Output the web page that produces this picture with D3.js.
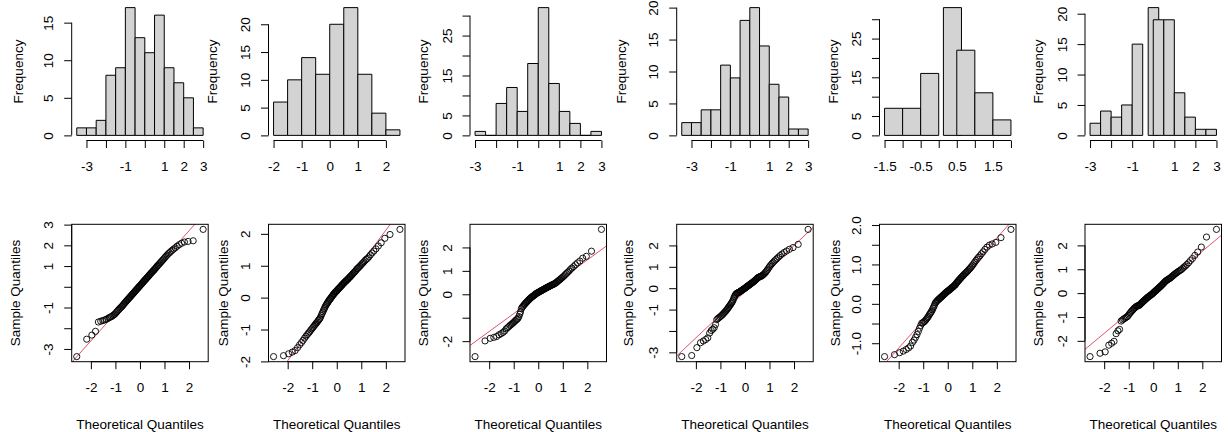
<!DOCTYPE html>
<html>
<head>
<meta charset="utf-8">
<script src="https://cdn.jsdelivr.net/npm/d3@7"></script>
<style>
  body { margin: 0; background: #fff; }
  svg { display: block; }
  text { font-family: "Liberation Sans", Arial, Helvetica, sans-serif; font-size: 13.5px; fill: #000; }
</style>
</head>
<body>
<svg id="chart" width="1229" height="432"></svg>
<script>
// ---- Histogram bins: left edge of each bar and its count (bin width 0.5) ----
const binWidth = 0.5;
const hist1Lefts  = [-3.5, -3, -2.5, -2, -1.5, -1, -0.5, 0, 0.5, 1, 1.5, 2, 2.5];
const hist1Counts = [1, 1, 2, 8, 9, 17, 13, 11, 16, 9, 7, 5, 1];
const hist2Lefts  = [-2, -1.5, -1, -0.5, 0, 0.5, 1, 1.5, 2];
const hist2Counts = [6, 10, 14, 11, 20, 23, 11, 4, 1];
const hist3Lefts  = [-3, -2.5, -2, -1.5, -1, -0.5, 0, 0.5, 1, 1.5, 2, 2.5];
const hist3Counts = [1, 0, 8, 12, 6, 18, 32, 13, 6, 3, 0, 1];
const hist4Lefts  = [-3.5, -3, -2.5, -2, -1.5, -1, -0.5, 0, 0.5, 1, 1.5, 2, 2.5];
const hist4Counts = [2, 2, 4, 4, 11, 9, 18, 20, 14, 8, 6, 1, 1];
const hist5Lefts  = [-1.5, -1, -0.5, 0.13, 0.5, 1, 1.5];
const hist5Counts = [7, 7, 16, 33, 22, 11, 4];
const hist6Lefts  = [-3, -2.5, -2, -1.5, -1, -0.24, 0, 0.5, 1, 1.5, 2, 2.5];
const hist6Counts = [2, 4, 3, 5, 15, 21, 19, 19, 7, 3, 1, 1];

// ---- Histogram axis ticks and the subset that carries a label ----
const histXTicksA  = [-3, -2, -1, 0, 1, 2, 3];
const histXLabelsA = [-3, -1, 1, 2, 3];
const hist2XTicks  = [-2, -1, 0, 1, 2];
const hist2XLabels = [-2, -1, 0, 1, 2];
const hist5XTicks  = [-1.5, -1, -0.5, 0, 0.5, 1, 1.5, 2];
const hist5XLabels = [-1.5, -0.5, 0.5, 1.5];
const hist1YTicks  = [0, 5, 10, 15];
const histYTicks20 = [0, 5, 10, 15, 20];
const histYTicks30 = [0, 5, 10, 15, 20, 25, 30];
const histYLabels30 = [0, 5, 15, 25];

// ---- Samples for the normal Q-Q plots (sorted values) ----
const sample1 = [-3.37,-2.53,-2.33,-2.15,-1.70,-1.66,-1.63,-1.60,-1.57,-1.53,
  -1.49,-1.46,-1.43,-1.39,-1.35,-1.31,-1.25,-1.20,-1.14,-1.10,
  -1.05,-1.01,-0.97,-0.93,-0.88,-0.84,-0.79,-0.75,-0.71,-0.67,
  -0.63,-0.60,-0.56,-0.52,-0.49,-0.45,-0.41,-0.38,-0.34,-0.31,
  -0.27,-0.24,-0.20,-0.17,-0.13,-0.10,-0.07,-0.03,0.00,0.03,
  0.07,0.10,0.13,0.17,0.20,0.24,0.27,0.31,0.34,0.37,
  0.41,0.44,0.48,0.51,0.55,0.59,0.62,0.66,0.70,0.73,
  0.77,0.81,0.84,0.89,0.93,0.98,1.02,1.06,1.11,1.15,
  1.20,1.25,1.30,1.35,1.41,1.47,1.53,1.59,1.64,1.70,
  1.76,1.82,1.88,1.96,2.03,2.10,2.16,2.19,2.22,2.77];
const sample2 = [-1.85,-1.82,-1.76,-1.71,-1.66,-1.57,-1.48,-1.41,-1.34,-1.27,
  -1.21,-1.16,-1.11,-1.07,-1.02,-0.98,-0.94,-0.90,-0.86,-0.83,
  -0.79,-0.76,-0.72,-0.69,-0.66,-0.61,-0.55,-0.50,-0.45,-0.40,
  -0.35,-0.30,-0.26,-0.22,-0.19,-0.16,-0.12,-0.09,-0.06,-0.04,
  -0.01,0.02,0.04,0.07,0.10,0.12,0.14,0.17,0.18,0.21,
  0.22,0.25,0.27,0.29,0.31,0.33,0.35,0.38,0.39,0.42,
  0.44,0.46,0.48,0.50,0.52,0.54,0.56,0.58,0.60,0.63,
  0.65,0.67,0.70,0.72,0.75,0.78,0.80,0.83,0.86,0.90,
  0.92,0.95,0.98,1.01,1.05,1.08,1.12,1.16,1.20,1.23,
  1.28,1.34,1.40,1.46,1.53,1.62,1.72,1.86,1.98,2.14];
const sample3 = [-2.66,-1.99,-1.88,-1.84,-1.80,-1.73,-1.68,-1.63,-1.57,-1.48,
  -1.43,-1.38,-1.33,-1.29,-1.25,-1.21,-1.17,-1.13,-1.09,-1.06,
  -1.02,-0.95,-0.85,-0.75,-0.62,-0.56,-0.52,-0.48,-0.44,-0.41,
  -0.37,-0.34,-0.31,-0.28,-0.25,-0.22,-0.19,-0.17,-0.14,-0.12,
  -0.10,-0.08,-0.06,-0.04,-0.02,0.01,0.03,0.04,0.06,0.07,
  0.09,0.10,0.12,0.13,0.15,0.16,0.18,0.19,0.21,0.22,
  0.24,0.25,0.27,0.28,0.30,0.31,0.33,0.34,0.36,0.37,
  0.39,0.40,0.42,0.43,0.45,0.47,0.49,0.52,0.55,0.58,
  0.61,0.64,0.68,0.71,0.75,0.79,0.84,0.89,0.94,0.99,
  1.06,1.12,1.18,1.26,1.34,1.42,1.54,1.62,1.84,2.77];
const sample4 = [-3.20,-3.15,-2.78,-2.55,-2.47,-2.40,-2.32,-2.10,-1.98,-1.92,
  -1.85,-1.70,-1.47,-1.42,-1.38,-1.34,-1.30,-1.26,-1.21,-1.17,
  -1.12,-1.08,-1.03,-0.98,-0.93,-0.88,-0.83,-0.78,-0.73,-0.68,
  -0.62,-0.56,-0.46,-0.40,-0.33,-0.28,-0.25,-0.23,-0.22,-0.20,
  -0.19,-0.17,-0.15,-0.13,-0.11,-0.09,-0.07,-0.05,-0.03,-0.01,
  0.01,0.03,0.06,0.08,0.10,0.12,0.14,0.16,0.19,0.21,
  0.23,0.25,0.28,0.30,0.32,0.35,0.38,0.41,0.44,0.47,
  0.50,0.52,0.53,0.55,0.56,0.58,0.61,0.64,0.68,0.72,
  0.77,0.83,0.89,0.96,1.03,1.09,1.15,1.21,1.27,1.33,
  1.39,1.46,1.53,1.60,1.67,1.74,1.82,1.90,2.05,2.75];
const sample5 = [-1.34,-1.29,-1.24,-1.20,-1.16,-1.12,-1.07,-0.98,-0.92,-0.85,
  -0.78,-0.70,-0.62,-0.55,-0.49,-0.48,-0.46,-0.44,-0.41,-0.38,
  -0.35,-0.32,-0.28,-0.25,-0.22,-0.19,-0.15,-0.11,-0.07,-0.03,
  0.02,0.04,0.06,0.08,0.10,0.11,0.13,0.14,0.16,0.17,
  0.19,0.20,0.22,0.23,0.25,0.26,0.28,0.29,0.30,0.32,
  0.33,0.34,0.35,0.37,0.38,0.39,0.41,0.42,0.43,0.45,
  0.46,0.48,0.49,0.52,0.54,0.56,0.58,0.60,0.62,0.64,
  0.66,0.68,0.70,0.72,0.74,0.76,0.78,0.80,0.82,0.84,
  0.87,0.89,0.92,0.95,0.98,1.02,1.06,1.10,1.14,1.18,
  1.22,1.27,1.32,1.38,1.44,1.49,1.52,1.56,1.68,1.89];
const sample6 = [-2.66,-2.52,-2.46,-2.18,-2.10,-2.02,-1.70,-1.58,-1.52,-1.17,
  -1.12,-1.08,-1.05,-1.01,-0.99,-0.93,-0.87,-0.82,-0.77,-0.73,
  -0.69,-0.65,-0.62,-0.59,-0.56,-0.54,-0.53,-0.52,-0.51,-0.48,
  -0.45,-0.42,-0.39,-0.36,-0.34,-0.31,-0.29,-0.26,-0.24,-0.21,
  -0.19,-0.17,-0.15,-0.13,-0.11,-0.09,-0.07,-0.05,-0.03,-0.01,
  0.02,0.04,0.07,0.09,0.11,0.14,0.16,0.18,0.21,0.23,
  0.26,0.28,0.31,0.33,0.36,0.39,0.42,0.45,0.48,0.51,
  0.53,0.55,0.57,0.59,0.61,0.63,0.66,0.69,0.72,0.75,
  0.78,0.81,0.84,0.87,0.90,0.93,0.96,0.99,1.04,1.09,
  1.14,1.20,1.27,1.36,1.45,1.58,1.72,1.93,2.35,2.67];

// ---- Q-Q axis ticks and labelled subsets ----
const qqXTicks  = [-2, -1, 0, 1, 2];
const qqXLabels = [-2, -1, 0, 1, 2];
const qq1YTicks = [-3, -2, -1, 0, 1, 2, 3];
const qq1YLabels = [-3, -1, 1, 2, 3];
const qq2YTicks = [-2, -1, 0, 1, 2];
const qq2YLabels = [-2, -1, 0, 1, 2];
const qq3YTicks = [-2, -1, 0, 1, 2];
const qq3YLabels = [-2, 0, 1, 2];
const qq4YTicks = [-3, -2, -1, 0, 1, 2];
const qq4YLabels = [-3, -1, 0, 1, 2];
const qq5YTicks = [-1, -0.5, 0, 0.5, 1, 1.5, 2];
const qq5YLabels = [-1, 0, 1, 2];
const qq6YTicks = [-2, -1, 0, 1, 2];
const qq6YLabels = [-2, -1, 0, 1, 2];

// ---- Layout ----
const colLeft = [71.7, 268.5, 470, 676.7, 879.5, 1085];
const plotW = 136.5;
const histTop = 2.5, histBottom = 140.5;
const qqTop = 224.3, qqBottom = 361.7;
const freqTitleX = [22.5, 216.8, 427.5, 626, 837.5, 1042.5];
const sampleTitleX = [19.5, 227.5, 427.5, 632.5, 839.5, 1042.5];
const tickLen = 7.5;

const svg = d3.select("#chart");
const loc = d3.formatLocale({decimal: ".", thousands: ",", grouping: [3], currency: ["", ""], minus: "-"});

// Inverse standard normal CDF (Acklam's rational approximation)
function qnorm(p) {
  const a = [-3.969683028665376e+01, 2.209460984245205e+02, -2.759285104469687e+02, 1.383577518672690e+02, -3.066479806614716e+01, 2.506628277459239e+00];
  const b = [-5.447609879822406e+01, 1.615858368580409e+02, -1.556989798598866e+02, 6.680131188771972e+01, -1.328068155288572e+01];
  const c = [-7.784894002430293e-03, -3.223964580411365e-01, -2.400758277161838e+00, -2.549732539343734e+00, 4.374664141464968e+00, 2.938163982698783e+00];
  const d = [7.784695709041462e-03, 3.224671290700398e-01, 2.445134137142996e+00, 3.754408661907416e+00];
  const pl = 0.02425, ph = 1 - pl;
  let q, r;
  if (p < pl) {
    q = Math.sqrt(-2 * Math.log(p));
    return (((((c[0]*q+c[1])*q+c[2])*q+c[3])*q+c[4])*q+c[5]) / ((((d[0]*q+d[1])*q+d[2])*q+d[3])*q+1);
  }
  if (p <= ph) {
    q = p - 0.5; r = q * q;
    return (((((a[0]*r+a[1])*r+a[2])*r+a[3])*r+a[4])*r+a[5])*q / (((((b[0]*r+b[1])*r+b[2])*r+b[3])*r+b[4])*r+1);
  }
  q = Math.sqrt(-2 * Math.log(1 - p));
  return -(((((c[0]*q+c[1])*q+c[2])*q+c[3])*q+c[4])*q+c[5]) / ((((d[0]*q+d[1])*q+d[2])*q+d[3])*q+1);
}

function labelFormat(labeled, fmt) {
  const f = loc.format(fmt);
  return v => labeled.some(l => Math.abs(l - v) < 1e-9) ? f(v) : "";
}

function cleanAxis(a) {
  a.attr("font-size", null).attr("font-family", null);
  a.selectAll("line, path").attr("stroke", "#000");
}

// Bottom axis: line spans first..last tick, labels below
function bottomAxis(g, scale, ticks, labeled, fmt, y) {
  const ax = d3.axisBottom(scale).tickValues(ticks).tickSize(tickLen).tickSizeOuter(0)
    .tickFormat(labelFormat(labeled, fmt));
  const a = g.append("g").attr("transform", `translate(0,${y})`).call(ax);
  a.select(".domain").attr("d", `M${scale(ticks[0])},0H${scale(ticks[ticks.length - 1])}`);
  a.selectAll(".tick text").attr("y", 30.5).attr("dy", null);
  cleanAxis(a);
}

// Left axis: labels run parallel to the axis
function leftAxis(g, scale, ticks, labeled, fmt, x) {
  const ax = d3.axisLeft(scale).tickValues(ticks).tickSize(tickLen).tickSizeOuter(0)
    .tickFormat(labelFormat(labeled, fmt));
  const a = g.append("g").attr("transform", `translate(${x},0)`).call(ax);
  a.select(".domain").attr("d", `M0,${scale(ticks[0])}V${scale(ticks[ticks.length - 1])}`);
  a.selectAll(".tick text")
    .attr("x", 0).attr("dy", null)
    .attr("text-anchor", "middle")
    .attr("transform", "translate(-18.3,0) rotate(-90)");
  cleanAxis(a);
}

// ---- Histograms ----
const hists = [
  {lefts: hist1Lefts, counts: hist1Counts, xTicks: histXTicksA, xLab: histXLabelsA, xFmt: ".0f", yTicks: hist1YTicks, yLab: hist1YTicks},
  {lefts: hist2Lefts, counts: hist2Counts, xTicks: hist2XTicks, xLab: hist2XLabels, xFmt: ".0f", yTicks: histYTicks20, yLab: histYTicks20},
  {lefts: hist3Lefts, counts: hist3Counts, xTicks: histXTicksA, xLab: histXLabelsA, xFmt: ".0f", yTicks: histYTicks30, yLab: histYLabels30},
  {lefts: hist4Lefts, counts: hist4Counts, xTicks: histXTicksA, xLab: histXLabelsA, xFmt: ".0f", yTicks: histYTicks20, yLab: histYTicks20},
  {lefts: hist5Lefts, counts: hist5Counts, xTicks: hist5XTicks, xLab: hist5XLabels, xFmt: ".1f", yTicks: histYTicks30, yLab: histYLabels30},
  {lefts: hist6Lefts, counts: hist6Counts, xTicks: histXTicksA, xLab: histXLabelsA, xFmt: ".0f", yTicks: histYTicks20, yLab: histYTicks20}
];

hists.forEach((h, i) => {
  const L = colLeft[i];
  const b0 = d3.min(h.lefts), b1 = d3.max(h.lefts) + binWidth;
  const pad = 0.04 * (b1 - b0);
  const x = d3.scaleLinear().domain([b0 - pad, b1 + pad]).range([L, L + plotW]);
  const M = d3.max(h.counts);
  const y = d3.scaleLinear().domain([-0.04 * M, 1.04 * M]).range([histBottom, histTop]);
  const g = svg.append("g").attr("class", "hist");

  const bars = h.lefts.map((l, k) => ({left: l, count: h.counts[k]}));
  g.selectAll("path.bar").data(bars).join("path")
    .attr("class", "bar")
    .attr("d", d => `M${x(d.left)},${y(0)}V${y(d.count)}H${x(d.left + binWidth)}V${y(0)}Z`)
    .attr("fill", "#d3d3d3")
    .attr("stroke", "#000")
    .attr("stroke-width", 1);

  bottomAxis(g, x, h.xTicks, h.xLab, h.xFmt, histBottom);
  leftAxis(g, y, h.yTicks, h.yLab, ".0f", L);

  g.append("text")
    .attr("transform", `translate(${freqTitleX[i]},${(histTop + histBottom) / 2}) rotate(-90)`)
    .attr("text-anchor", "middle")
    .text("Frequency");
});

// ---- Normal Q-Q plots ----
const qqs = [
  {sample: sample1, yTicks: qq1YTicks, yLab: qq1YLabels, yFmt: ".0f"},
  {sample: sample2, yTicks: qq2YTicks, yLab: qq2YLabels, yFmt: ".0f"},
  {sample: sample3, yTicks: qq3YTicks, yLab: qq3YLabels, yFmt: ".0f"},
  {sample: sample4, yTicks: qq4YTicks, yLab: qq4YLabels, yFmt: ".0f"},
  {sample: sample5, yTicks: qq5YTicks, yLab: qq5YLabels, yFmt: ".1f"},
  {sample: sample6, yTicks: qq6YTicks, yLab: qq6YLabels, yFmt: ".0f"}
];

qqs.forEach((q, i) => {
  const L = colLeft[i];
  const sorted = q.sample.slice().sort(d3.ascending);
  const n = sorted.length;
  const theo = d3.range(n).map(k => qnorm((k + 0.5) / n));

  const xr = d3.extent(theo), xp = 0.04 * (xr[1] - xr[0]);
  const x = d3.scaleLinear().domain([xr[0] - xp, xr[1] + xp]).range([L, L + plotW]);
  const yr = d3.extent(sorted), yp = 0.04 * (yr[1] - yr[0]);
  const y = d3.scaleLinear().domain([yr[0] - yp, yr[1] + yp]).range([qqBottom, qqTop]);

  const g = svg.append("g").attr("class", "qq");
  const clipId = `qqclip${i}`;
  g.append("clipPath").attr("id", clipId)
    .append("rect").attr("x", L).attr("y", qqTop).attr("width", plotW).attr("height", qqBottom - qqTop);

  // reference line through the first and third quartiles
  const q1 = d3.quantile(sorted, 0.25), q3 = d3.quantile(sorted, 0.75);
  const z1 = qnorm(0.25), z3 = qnorm(0.75);
  const slope = (q3 - q1) / (z3 - z1), icpt = q1 - slope * z1;
  const [xa, xb] = x.domain();
  g.append("line")
    .attr("clip-path", `url(#${clipId})`)
    .attr("x1", x(xa)).attr("y1", y(icpt + slope * xa))
    .attr("x2", x(xb)).attr("y2", y(icpt + slope * xb))
    .attr("stroke", "#DF536B").attr("stroke-width", 1);

  g.selectAll("circle").data(sorted).join("circle")
    .attr("cx", (d, k) => x(theo[k]))
    .attr("cy", d => y(d))
    .attr("r", 3.1)
    .attr("fill", "none")
    .attr("stroke", "#000")
    .attr("stroke-width", 0.9);

  g.append("rect")
    .attr("x", L).attr("y", qqTop).attr("width", plotW).attr("height", qqBottom - qqTop)
    .attr("fill", "none").attr("stroke", "#000").attr("stroke-width", 1);

  bottomAxis(g, x, qqXTicks, qqXLabels, ".0f", qqBottom);
  leftAxis(g, y, q.yTicks, q.yLab, q.yFmt, L);

  g.append("text")
    .attr("transform", `translate(${sampleTitleX[i]},${(qqTop + qqBottom) / 2}) rotate(-90)`)
    .attr("text-anchor", "middle")
    .text("Sample Quantiles");
  g.append("text")
    .attr("x", L + plotW / 2).attr("y", 428.5)
    .attr("text-anchor", "middle")
    .text("Theoretical Quantiles");
});
</script>
</body>
</html>
